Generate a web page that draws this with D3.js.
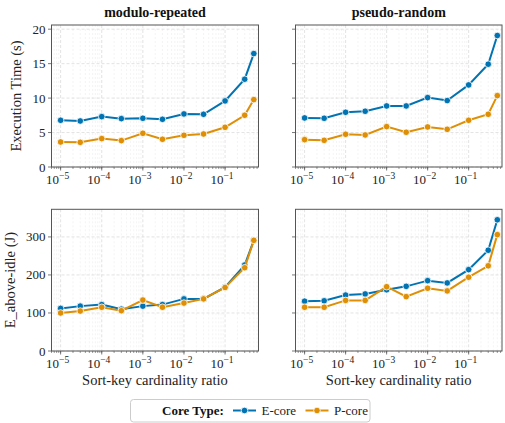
<!DOCTYPE html>
<html><head><meta charset="utf-8">
<script src="https://cdn.jsdelivr.net/npm/d3@7"></script>
<style>body{margin:0;background:#fff}svg{display:block;font-family:"Liberation Serif","DejaVu Serif",serif}</style>
</head><body><svg id="c" width="505" height="423"></svg>
<script>
const ratios = [1e-5, 3e-5, 1e-4, 3e-4, 1e-3, 3e-3, 1e-2, 3e-2, 1e-1, 3e-1, 5e-1];
const coreTypes = ["E-core", "P-core"];
const colors = ["#0173b2", "#de8f05"];
const datasets = ["modulo-repeated", "pseudo-random"];
const metrics = ["Execution Time (s)", "E_above-idle (J)"];
// execution time (s)
const timeModE = [6.78, 6.68, 7.31, 7.02, 7.07, 6.92, 7.70, 7.65, 9.59, 12.74, 16.46];
const timeModP = [3.63, 3.58, 4.12, 3.83, 4.89, 4.02, 4.60, 4.79, 5.76, 7.51, 9.78];
const timeRndE = [7.12, 7.07, 7.94, 8.09, 8.86, 8.86, 10.07, 9.64, 11.91, 14.92, 19.08];
const timeRndP = [3.97, 3.87, 4.75, 4.65, 5.86, 5.04, 5.81, 5.47, 6.78, 7.65, 10.36];
// energy above idle (J)
const enModE = [112, 118, 122, 110, 118, 122, 137, 137, 168, 226, 291];
const enModP = [100, 105, 115, 106, 134, 115, 126, 137, 167, 219, 291];
const enRndE = [131, 132, 147, 150, 161, 170, 185, 179, 214, 265, 345];
const enRndP = [115, 115, 133, 133, 169, 143, 165, 158, 194, 224, 306];
const yTicksTime = [0, 5, 10, 15, 20];
const yTicksEnergy = [0, 100, 200, 300];
const xTickExps = [-5, -4, -3, -2, -1];

const grid = [
  [[timeModE, timeModP], [timeRndE, timeRndP]],
  [[enModE, enModP], [enRndE, enRndP]]
];
const yTicks = [yTicksTime, yTicksEnergy];

const svg = d3.select("#c");
const colX = [[51.5, 258.5], [295.5, 502]];
const rowY = [[25, 167], [209.3, 351]];
const x0 = d3.scaleLog().domain([6e-6, 0.65]);
const minorTicks = [];
for (let e = -6; e <= 0; e++) for (let m = 1; m < 10; m++) {
  const v = m * Math.pow(10, e);
  if (v >= 6e-6 && v <= 0.65) minorTicks.push(v);
}
const spine = "#555";

grid.forEach((row, r) => {
  const ymax = d3.max(row.flat(2)) * 1.08;
  const y = d3.scaleLinear().domain([0, ymax]).range([rowY[r][1], rowY[r][0]]);
  row.forEach((series, c) => {
    const x = x0.copy().range(colX[c]);
    const g = svg.append("g");
    const [l, rr] = colX[c], [t, b] = rowY[r];
    // minor vertical grid
    g.selectAll(".mg").data(minorTicks.filter(v => Math.abs(Math.log10(v) - Math.round(Math.log10(v))) > 1e-6))
      .join("line").attr("x1", d => x(d)).attr("x2", d => x(d)).attr("y1", t).attr("y2", b)
      .attr("stroke", "#ececec").attr("stroke-width", 0.6).attr("stroke-dasharray", "2,2");
    // major grids
    g.selectAll(".gx").data(xTickExps).join("line")
      .attr("x1", d => x(Math.pow(10, d))).attr("x2", d => x(Math.pow(10, d))).attr("y1", t).attr("y2", b)
      .attr("stroke", "#dcdcdc").attr("stroke-width", 0.8).attr("stroke-dasharray", "3,2");
    g.selectAll(".gy").data(yTicks[r]).join("line")
      .attr("x1", l).attr("x2", rr).attr("y1", d => y(d)).attr("y2", d => y(d))
      .attr("stroke", "#dcdcdc").attr("stroke-width", 0.8).attr("stroke-dasharray", "3,2");
    // lines
    series.forEach((vals, k) => {
      const pts = ratios.map((v, i) => [v, vals[i]]);
      g.append("path").datum(pts)
        .attr("d", d3.line().x(d => x(d[0])).y(d => y(d[1])))
        .attr("fill", "none").attr("stroke", colors[k]).attr("stroke-width", 2);
      g.selectAll(".pt" + k).data(pts).join("circle")
        .attr("cx", d => x(d[0])).attr("cy", d => y(d[1])).attr("r", 3.3)
        .attr("fill", colors[k]).attr("stroke", "#fff").attr("stroke-width", 0.8);
    });
    // spines
    g.append("rect").attr("x", l).attr("y", t).attr("width", rr - l).attr("height", b - t)
      .attr("fill", "none").attr("stroke", spine).attr("stroke-width", 1);
    // x ticks
    g.selectAll(".mt").data(minorTicks).join("line")
      .attr("x1", d => x(d)).attr("x2", d => x(d)).attr("y1", b).attr("y2", b + 2)
      .attr("stroke", spine).attr("stroke-width", 0.6);
    g.selectAll(".Mt").data(xTickExps).join("line")
      .attr("x1", d => x(Math.pow(10, d))).attr("x2", d => x(Math.pow(10, d))).attr("y1", b).attr("y2", b + 3.5)
      .attr("stroke", spine).attr("stroke-width", 0.8);
    const lab = g.selectAll(".xl").data(xTickExps).join("text")
      .attr("x", d => x(Math.pow(10, d)) - 3).attr("y", b + 17)
      .attr("text-anchor", "middle").attr("font-size", 13).attr("fill", "#222");
    lab.append("tspan").text("10");
    lab.append("tspan").attr("dy", -5).attr("font-size", 9.5).text(d => "\u2212" + (-d));
    // y ticks
    g.selectAll(".yt").data(yTicks[r]).join("line")
      .attr("x1", l - 3.5).attr("x2", l).attr("y1", d => y(d)).attr("y2", d => y(d))
      .attr("stroke", spine).attr("stroke-width", 0.8);
    if (c === 0) {
      g.selectAll(".yl").data(yTicks[r]).join("text")
        .attr("x", l - 6).attr("y", d => y(d) + 4.5).attr("text-anchor", "end")
        .attr("font-size", 13).attr("fill", "#222").text(d => d);
      const lx = r === 0 ? 21 : 15;
      svg.append("text").attr("transform", `translate(${lx},${(t + b) / 2}) rotate(-90)`)
        .attr("text-anchor", "middle").attr("font-size", 14.5).attr("fill", "#222").text(metrics[r]);
    }
    if (r === 0) {
      svg.append("text").attr("x", (l + rr) / 2).attr("y", 17).attr("text-anchor", "middle")
        .attr("font-size", 14).attr("font-weight", "bold").attr("fill", "#111").text(datasets[c]);
    } else {
      svg.append("text").attr("x", (l + rr) / 2).attr("y", 385).attr("text-anchor", "middle")
        .attr("font-size", 14.5).attr("fill", "#222").text("Sort-key cardinality ratio");
    }
  });
});

// legend
const lg = svg.append("g");
lg.append("rect").attr("x", 130.5).attr("y", 399.5).attr("width", 239.5).attr("height", 22.5).attr("rx", 3)
  .attr("fill", "#fff").attr("stroke", "#ccc").attr("stroke-width", 1);
lg.append("text").attr("x", 162).attr("y", 415).attr("font-size", 13).attr("font-weight", "bold")
  .attr("fill", "#111").text("Core Type:");
const legX = [233, 305.5];
coreTypes.forEach((n, k) => {
  lg.append("line").attr("x1", legX[k]).attr("x2", legX[k] + 23).attr("y1", 410.5).attr("y2", 410.5)
    .attr("stroke", colors[k]).attr("stroke-width", 2);
  lg.append("circle").attr("cx", legX[k] + 11.5).attr("cy", 410.5).attr("r", 3.3)
    .attr("fill", colors[k]).attr("stroke", "#fff").attr("stroke-width", 0.8);
  lg.append("text").attr("x", legX[k] + 28.5).attr("y", 415).attr("font-size", 13).attr("fill", "#222").text(n);
});
</script></body></html>
